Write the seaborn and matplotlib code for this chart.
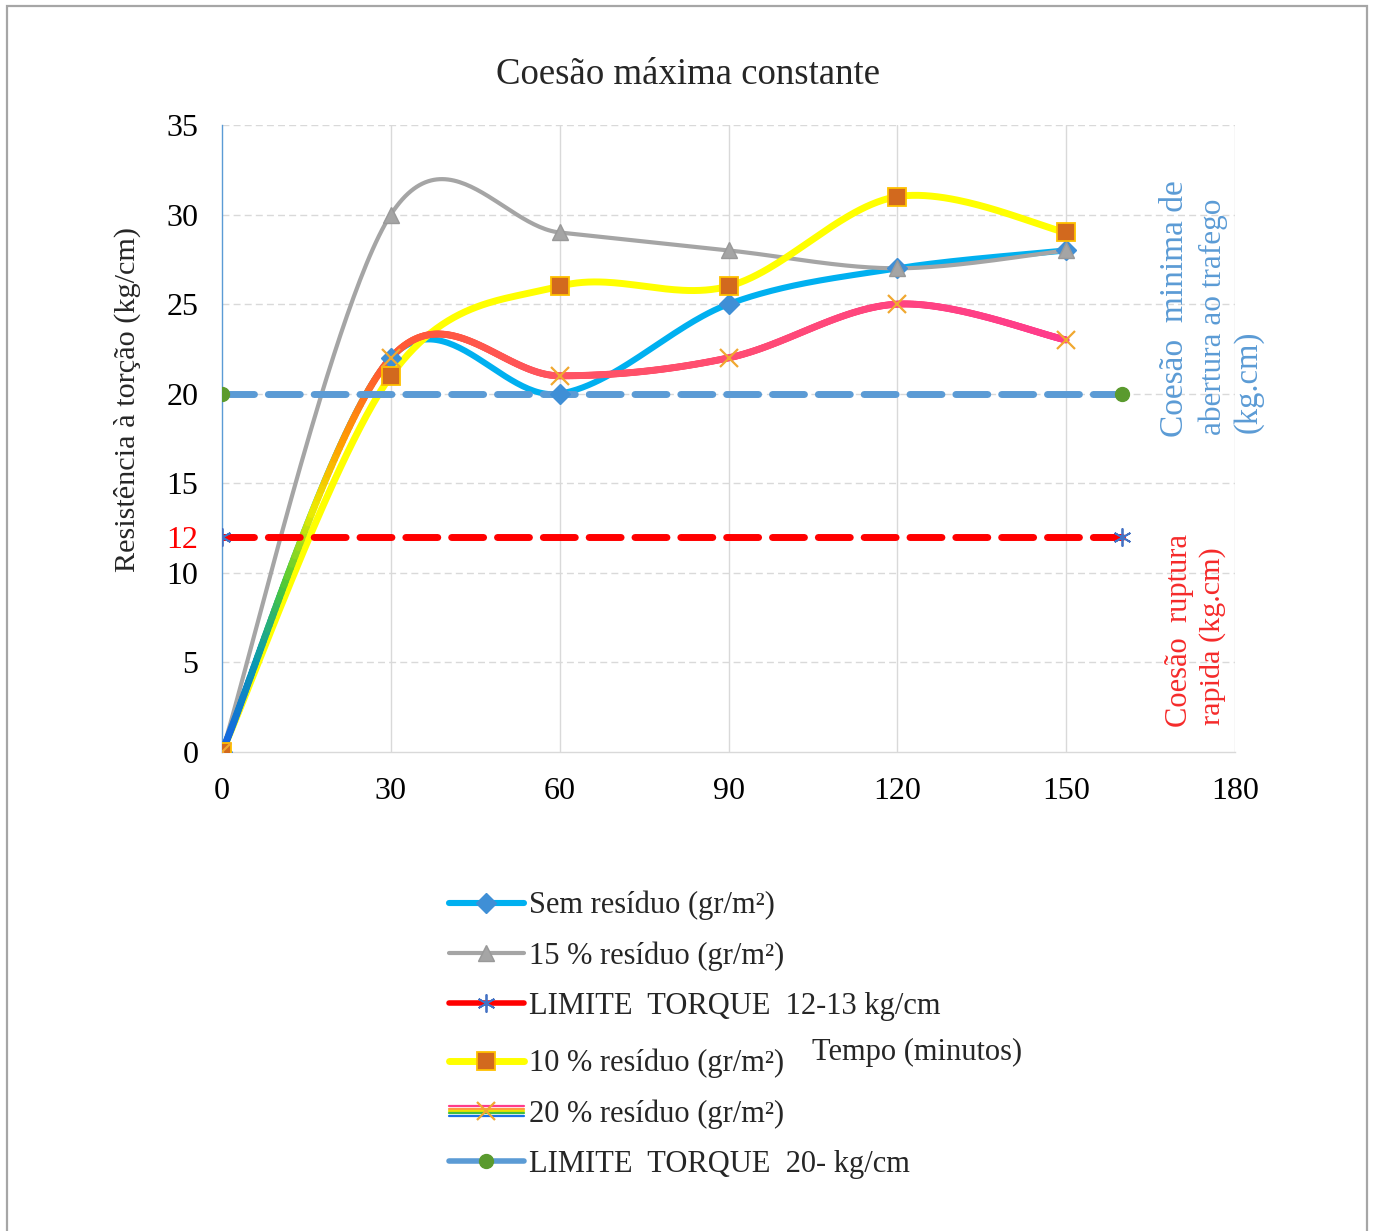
import numpy as np
import pandas as pd
import matplotlib
matplotlib.use("Agg")
import matplotlib.pyplot as plt
import seaborn as sns
from matplotlib.collections import LineCollection
from matplotlib.colors import LinearSegmentedColormap
from matplotlib.lines import Line2D
from matplotlib.legend_handler import HandlerBase
from matplotlib.patches import Rectangle

# ---- data ----
tempo = [0, 30, 60, 90, 120, 150]
sem_residuo = [0, 22, 20, 25, 27, 28]
residuo_15 = [0, 30, 29, 28, 27, 28]
residuo_10 = [0, 21, 26, 26, 31, 29]
residuo_20 = [0, 22, 21, 22, 25, 23]
limite_x = [0, 160]
limite_12 = [12, 12]
limite_20 = [20, 20]

x_ticks = [0, 30, 60, 90, 120, 150, 180]
y_ticks = [0, 5, 10, 15, 20, 25, 30, 35]

labels = {
    "sem": "Sem resíduo (gr/m²)",
    "r15": "15 % resíduo (gr/m²)",
    "l12": "LIMITE  TORQUE  12-13 kg/cm",
    "r10": "10 % resíduo (gr/m²)",
    "r20": "20 % resíduo (gr/m²)",
    "l20": "LIMITE  TORQUE  20- kg/cm",
}

sns.set_theme(style="white")
plt.rcParams["font.family"] = ["Liberation Serif", "DejaVu Serif"]

W, H = 1374, 1231
fig = plt.figure(figsize=(W / 100, H / 100), dpi=100)
fig.patch.set_facecolor("white")

# outer frame
fig.patches.append(Rectangle((7 / W, -0.01), (1367 - 7) / W, 1 - 6 / H + 0.01,
                             transform=fig.transFigure, fill=False,
                             edgecolor="#a6a6a6", linewidth=1.6))

ax = fig.add_axes([222 / W, 1 - 752 / H, (1235 - 222) / W, (752 - 125) / H])
ax.set_xlim(0, 180)
ax.set_ylim(0, 35)


def smooth(xs, ys, n=60):
    """Piecewise cubic Bezier through the points (Catmull-Rom style tangents)."""
    pts = np.column_stack([xs, ys]).astype(float)
    out = []
    for i in range(len(pts) - 1):
        p0 = pts[i - 1] if i > 0 else pts[i]
        p1, p2 = pts[i], pts[i + 1]
        p3 = pts[i + 2] if i + 2 < len(pts) else pts[i + 1]
        c1 = p1 + (p2 - p0) / 6
        c2 = p2 - (p3 - p1) / 6
        t = np.linspace(0, 1, n)[:, None]
        if i > 0:
            t = t[1:]
        b = ((1 - t) ** 3) * p1 + 3 * ((1 - t) ** 2) * t * c1 \
            + 3 * (1 - t) * t ** 2 * c2 + t ** 3 * p2
        out.append(b)
    b = np.vstack(out)
    return b[:, 0], b[:, 1]


# grid
for xv in x_ticks[1:]:
    ax.axvline(xv, color="#d9d9d9", lw=1.0, zorder=0)
for yv in y_ticks[1:]:
    ax.axhline(yv, color="#d9d9d9", lw=1.0, ls=(0, (5, 3)), zorder=0)

# series (smoothed)
c_sem = "#00b0f0"
c_15 = "#a5a5a5"
c_10 = "#ffff00"

sx, sy = smooth(tempo, sem_residuo)
sns.lineplot(x=sx, y=sy, sort=False, estimator=None, color=c_sem, lw=4.4,
             ax=ax, zorder=3)
gx, gy = smooth(tempo, residuo_15)
sns.lineplot(x=gx, y=gy, sort=False, estimator=None, color=c_15, lw=3.0,
             ax=ax, zorder=3)
ax.plot(limite_x, limite_12, color="#ff0000", lw=5.0, ls=(0, (4.6, 2.0)),
        dash_capstyle="round", zorder=4)
yx, yy = smooth(tempo, residuo_10)
sns.lineplot(x=yx, y=yy, sort=False, estimator=None, color=c_10, lw=5.0,
             ax=ax, zorder=3)

# 20 % curve with colour gradient along the line
rx, ry = smooth(tempo, residuo_20, n=120)
grad = LinearSegmentedColormap.from_list("grad20", [
    (0.0, "#1560e8"), (6 / 150, "#0a9ab0"), (11 / 150, "#4cc838"),
    (16 / 150, "#ecec00"), (21 / 150, "#ffa000"), (28 / 150, "#ff5a30"),
    (60 / 150, "#ff5462"), (100 / 150, "#ff4a78"), (1.0, "#ff3c8c")])
pts = np.column_stack([rx, ry]).reshape(-1, 1, 2)
segs = np.concatenate([pts[:-1], pts[1:]], axis=1)
lc = LineCollection(segs, colors=grad(((rx[:-1] + rx[1:]) / 2) / 150),
                    linewidths=5.0, capstyle="round", zorder=3.5)
ax.add_collection(lc)

ax.plot(limite_x, limite_20, color="#5b9bd5", lw=5.0, ls=(0, (4.6, 2.0)),
        dash_capstyle="round", zorder=4)

# markers
ax.plot(tempo, sem_residuo, ls="none", marker="D", ms=10, color="#3f8fd6",
        mec="#3f8fd6", zorder=6)
ax.plot(tempo, residuo_15, ls="none", marker="^", ms=12, color="#a5a5a5",
        mec="#999999", zorder=6)
ax.plot(limite_x, limite_12, ls="none", marker=(6, 2, 0), ms=13,
        color="#4472c4", mew=1.3, zorder=6)
ax.plot(tempo, residuo_10, ls="none", marker="s", ms=12.5, color="#d2691e",
        mec="#ffc000", mew=1.3, zorder=6)
ax.plot(tempo, residuo_20, ls="none", marker="x", ms=13, color="#f0a830",
        mew=1.6, zorder=6)
ax.plot(limite_x, limite_20, ls="none", marker="o", ms=10, color="#5a9a2e",
        zorder=6)

# axes styling
for s in ["top", "right"]:
    ax.spines[s].set_visible(False)
ax.spines["left"].set_color("#5b9bd5")
ax.spines["left"].set_linewidth(1.0)
ax.spines["bottom"].set_color("#d9d9d9")
ax.spines["bottom"].set_linewidth(1.0)
ax.set_xticks(x_ticks)
ax.set_yticks(y_ticks)
ax.set_yticks([12], minor=True)
ax.set_yticklabels(["12"], minor=True, color="#ff0000")
ax.tick_params(axis="both", which="both", length=0, labelsize=23,
               labelcolor="black")
ax.tick_params(axis="y", which="minor", labelcolor="#ff0000", pad=17)
ax.tick_params(axis="y", which="major", pad=17)
ax.tick_params(axis="x", pad=18)
ax.grid(False)

# titles
fig.text(688 / W, 1 - 75 / H, "Coesão máxima constante", ha="center",
         va="center", fontsize=26.5)
fig.text(127 / W, 1 - 400 / H, "Resistência à torção (kg/cm)", rotation=90,
         ha="center", va="center", fontsize=21.8)
fig.text(917 / W, 1 - 1052 / H, "Tempo (minutos)", ha="center", va="center",
         fontsize=22)

# side notes
blue_txt = "#5b9bd5"
fig.text(1175 / W, 1 - 437 / H, "Coesão  minima de", rotation=90, ha="center",
         va="bottom", fontsize=24, color=blue_txt)
fig.text(1213 / W, 1 - 435 / H, "abertura ao trafego", rotation=90,
         ha="center", va="bottom", fontsize=22.5, color=blue_txt)
fig.text(1248 / W, 1 - 433 / H, "(kg.cm)", rotation=90, ha="center",
         va="bottom", fontsize=23.5, color=blue_txt)
red_txt = "#f52a2a"
fig.text(1180 / W, 1 - 727 / H, "Coesão  ruptura", rotation=90, ha="center",
         va="bottom", fontsize=22, color=red_txt)
fig.text(1213 / W, 1 - 725 / H, "rapida (kg.cm)", rotation=90, ha="center",
         va="bottom", fontsize=21.7, color=red_txt)


# legend
class StripeHandler(HandlerBase):
    def create_artists(self, legend, orig_handle, xdescent, ydescent, width,
                       height, fontsize, trans):
        cols = ["#ff3c8c", "#ff9a40", "#f0e000", "#40c040", "#1a70e8"]
        arts = []
        cy = height / 2 - ydescent
        step = 1.7
        for k, c in enumerate(cols):
            yk = cy + (2 - k) * step
            arts.append(Line2D([-xdescent, width - xdescent], [yk, yk],
                               color=c, lw=1.6, transform=trans))
        arts.append(Line2D([width / 2 - xdescent], [cy], marker="x", ms=13,
                           mew=1.6, color="#f0a830", ls="none",
                           transform=trans))
        return arts


h_sem = Line2D([], [], color=c_sem, lw=4.4, marker="D", ms=10,
               mfc="#3f8fd6", mec="#3f8fd6")
h_15 = Line2D([], [], color=c_15, lw=3.0, marker="^", ms=12, mfc="#a5a5a5",
              mec="#999999")
h_12 = Line2D([], [], color="#ff0000", lw=4.0, marker=(6, 2, 0), ms=13,
              mec="#4472c4", mew=1.3)
h_10 = Line2D([], [], color=c_10, lw=5.0, marker="s", ms=12.5, mfc="#d2691e",
              mec="#ffc000", mew=1.3)
h_20 = Line2D([], [], color="#ff3c8c")
h_l20 = Line2D([], [], color="#5b9bd5", lw=4.0, marker="o", ms=10,
               mfc="#5a9a2e", mec="#5a9a2e")

leg_kw = dict(handler_map={h_20: StripeHandler()}, loc="upper left",
              frameon=False, fontsize=22, handlelength=2.45,
              handletextpad=0.18, labelspacing=0.68, borderaxespad=0,
              borderpad=0)
leg1 = fig.legend([h_sem, h_15, h_12],
                  [labels[k] for k in ["sem", "r15", "l12"]],
                  bbox_to_anchor=(449 / W, 1 - 891 / H), **leg_kw)
leg2 = fig.legend([h_10, h_20, h_l20],
                  [labels[k] for k in ["r10", "r20", "l20"]],
                  bbox_to_anchor=(449 / W, 1 - 1049 / H), **leg_kw)

fig.savefig("out.png", dpi=100, facecolor="white")
